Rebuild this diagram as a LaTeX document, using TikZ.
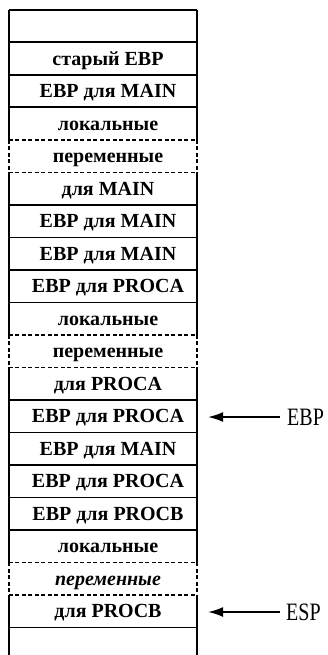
\documentclass[tikz,border=0pt]{standalone}
\usepackage{fontspec}
\setmainfont{Liberation Serif}
\usetikzlibrary{arrows.meta}
\newcommand{\celltext}[1]{\hspace*{10pt}#1}
\begin{document}
\begin{tikzpicture}[x=1pt,y=-1pt,
  cell/.style={minimum width=188pt,minimum height=32.5pt,inner sep=0pt,
    text height=13pt,text depth=0pt,font=\bfseries\fontsize{20}{20}\selectfont},
  solidrule/.style={line width=1.6pt},
  dashrule/.style={line width=1.5pt,dash pattern=on 4pt off 2.5pt},
  ptr/.style={line width=1.4pt,-{Latex[length=15pt,width=10pt]}},
  lbl/.style={inner sep=0pt,font=\fontsize{20}{20}\selectfont}]
\useasboundingbox (0,0) rectangle (328,655);
\foreach \k/\t in {0/{},1/{старый EBP},2/{EBP для MAIN},3/{локальные},4/{переменные},
  5/{для MAIN},6/{EBP для MAIN},7/{EBP для MAIN},8/{EBP для PROCA},9/{локальные},
  10/{переменные},11/{для PROCA},12/{EBP для PROCA},13/{EBP для MAIN},14/{EBP для PROCA},
  15/{EBP для PROCB},16/{локальные},17/{\itshape переменные},18/{для PROCB}}
  \node[cell] (r\k) at (103,26.25+32.5*\k) {\celltext{\t}};
\node[cell,minimum height=27.5pt] (r19) at (103,641.25) {};
% horizontal rules
\foreach \k in {0,1,2,3,6,7,8,9,12,13,14,15,16,19}
  \draw[solidrule] (r\k.north west) -- (r\k.north east);
\foreach \k in {4,5,10,11,17,18}
  \draw[dashrule] (r\k.north west) -- (r\k.north east);
% vertical sides
\foreach \k in {0,1,2,3,5,6,7,8,9,11,12,13,14,15,16,18,19}
  \draw[solidrule] (r\k.north west) -- (r\k.south west) (r\k.north east) -- (r\k.south east);
\foreach \k in {4,10,17}
  \draw[dashrule] (r\k.north west) -- (r\k.south west) (r\k.north east) -- (r\k.south east);
% pointers
\node[lbl,anchor=west] (ebp) at (287,417) {\scalebox{1}[1.25]{EBP}};
\node[lbl,anchor=west] (esp) at (286,612) {\scalebox{1}[1.25]{ESP}};
\draw[ptr,shorten <=7pt,shorten >=11pt] (ebp.west) -- (ebp.west -| r12.east);
\draw[ptr,shorten <=6pt,shorten >=11pt] (esp.west) -- (esp.west -| r18.east);
\end{tikzpicture}
\end{document}
